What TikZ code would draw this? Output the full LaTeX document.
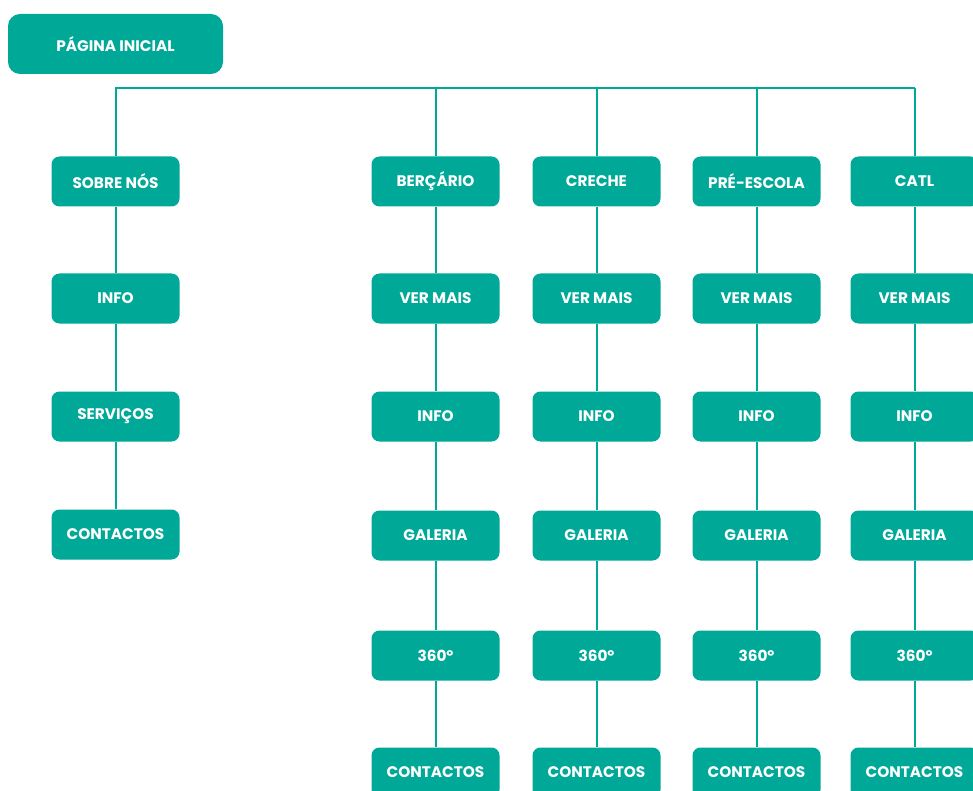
\documentclass[tikz,border=0pt]{standalone}
\usepackage{fontspec}
\setmainfont{Poppins}
\definecolor{tealbox}{RGB}{0,168,152}
\begin{document}
\begin{tikzpicture}[x=1pt,y=-1pt,
  box/.style={fill=tealbox, rounded corners=8pt, minimum width=128pt, minimum height=50pt,
    inner sep=0pt, text=white, font=\bfseries\fontsize{15.3}{18}\selectfont},
  conn/.style={draw=tealbox, line width=2pt}]
\useasboundingbox (0,0) rectangle (973,791);
\node[box, minimum width=215pt, minimum height=60pt, rounded corners=12pt] (home) at (115.5,44) {PÁGINA INICIAL};
\coordinate (bus) at (0,88);
% sobre nos
\node[box] (sob1) at (115.5,181.5) {SOBRE NÓS};
\node[box] (sob2) at (115.5,298.5) {INFO};
\node[box] (sob3) at (115.5,416.5) {SERVIÇOS};
\node[box] (sob4) at (115.5,534.5) {CONTACTOS};
\draw[conn] (sob1) -- (sob2) -- (sob3) -- (sob4);
% the four schools
\foreach \n/\x/\t in {ber/435.5/BERÇÁRIO, cre/596.5/CRECHE, pre/756.5/PRÉ-ESCOLA, cat/914.5/CATL}{
  \node[box] (\n1) at (\x,181.5) {\t};
  \node[box] (\n2) at (\x,298.5) {VER MAIS};
  \node[box] (\n3) at (\x,416.5) {INFO};
  \node[box] (\n4) at (\x,535.5) {GALERIA};
  \node[box] (\n5) at (\x,655.5) {360º};
  \node[box] (\n6) at (\x,772.5) {CONTACTOS};
  \draw[conn] (\n1) -- (\n2) -- (\n3) -- (\n4) -- (\n5) -- (\n6);
  \draw[conn] (\n1.north) -- (bus -| \n1.north);
}
\draw[conn] (sob1.north) |- (bus -| cat1.north);
\end{tikzpicture}
\end{document}
